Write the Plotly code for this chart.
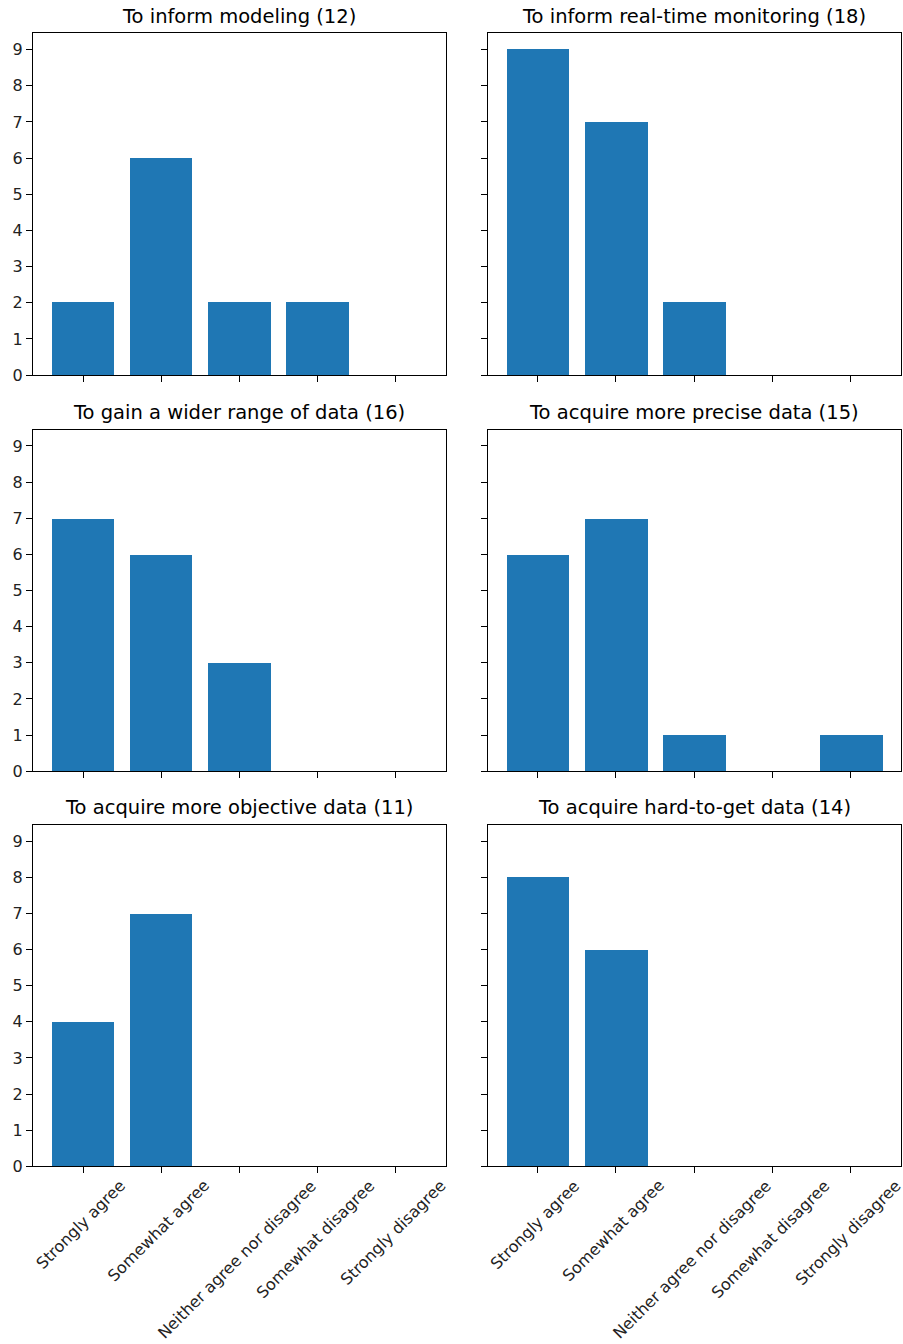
import plotly.graph_objects as go

# Survey responses per motivation
categories = ["Strongly agree", "Somewhat agree", "Neither agree nor disagree",
              "Somewhat disagree", "Strongly disagree"]
titles = [
    "To inform modeling (12)",
    "To inform real-time monitoring (18)",
    "To gain a wider range of data (16)",
    "To acquire more precise data (15)",
    "To acquire more objective data (11)",
    "To acquire hard-to-get data (14)",
]
inform_modeling = [2, 6, 2, 2, 0]
realtime_monitoring = [9, 7, 2, 0, 0]
wider_range = [7, 6, 3, 0, 0]
more_precise = [6, 7, 1, 0, 1]
more_objective = [4, 7, 0, 0, 0]
hard_to_get = [8, 6, 0, 0, 0]
series = [inform_modeling, realtime_monitoring, wider_range,
          more_precise, more_objective, hard_to_get]
y_ticks = list(range(10))

W, H = 903, 1344
VS = 1.0078  # vertical layout stretch
BAR = "#1f77b4"
FONT = "DejaVu Sans"
TICK_SIZE = 16
TITLE_SIZE = 19.5

# panel boxes in pixels: (left, right) and (top, bottom)
cols = [(33, 445.5), (487.5, 901)]
rows = [(33.3, 375), (429.5, 771), (824.5, 1166)]


def py(px):
    return 1 - px * VS / H


fig = go.Figure()
xpos = list(range(len(categories)))

for k, vals in enumerate(series):
    r, c = divmod(k, 2)
    n = k + 1
    xa = "x" if n == 1 else f"x{n}"
    ya = "y" if n == 1 else f"y{n}"
    fig.add_trace(go.Bar(x=xpos, y=vals, width=0.8, marker_color=BAR,
                         marker_line_width=0, xaxis=xa, yaxis=ya,
                         showlegend=False))
    (l, rr), (t, b) = cols[c], rows[r]
    axis_common = dict(showline=True, mirror=True, linecolor="black", linewidth=1,
                       ticks="outside", ticklen=6, tickwidth=1, tickcolor="black",
                       showgrid=False, zeroline=False,
                       tickfont=dict(family=FONT, size=TICK_SIZE, color="#222"))
    fig.layout[f"xaxis{'' if n == 1 else n}"] = dict(
        domain=[l / W, rr / W], anchor=ya, range=[-0.64, 4.64],
        tickvals=xpos, showticklabels=False, **axis_common)
    fig.layout[f"yaxis{'' if n == 1 else n}"] = dict(
        domain=[py(b), py(t)], anchor=xa, range=[0, 9.45],
        tickvals=y_ticks, showticklabels=(c == 0), **axis_common)
    fig.add_annotation(text=titles[k], xref="paper", yref="paper",
                       x=(l + rr) / 2 / W, y=py(t - 3.5),
                       xanchor="center", yanchor="bottom", showarrow=False,
                       font=dict(family=FONT, size=TITLE_SIZE, color="black"))
    if r == 2:
        for i, lab in enumerate(categories):
            fig.add_annotation(text=lab, xref=xa, yref="paper", x=i - 0.03,
                               y=py(1173), xanchor="center", yanchor="top",
                               textangle=-45, showarrow=False,
                               font=dict(family=FONT, size=TICK_SIZE, color="#222"))

fig.update_layout(width=W, height=H, margin=dict(l=0, r=0, t=0, b=0),
                  paper_bgcolor="white", plot_bgcolor="white", bargap=0)
fig.write_html("out.html")
